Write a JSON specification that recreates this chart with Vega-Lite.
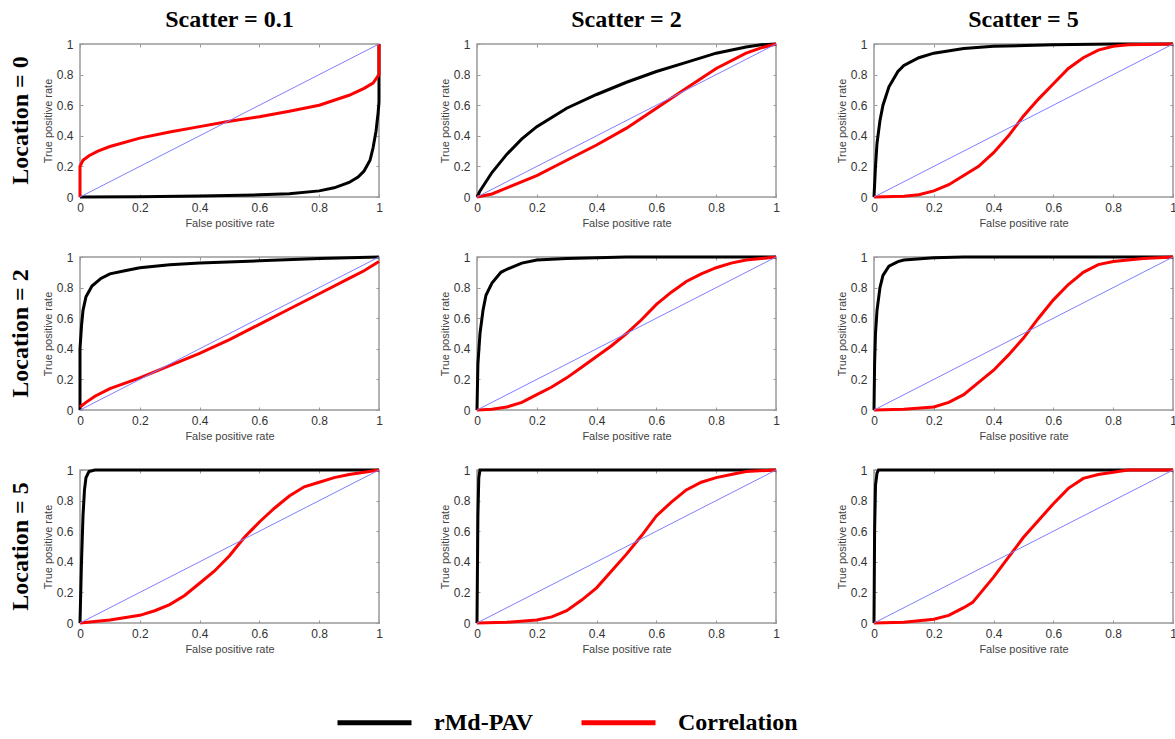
{
  "$schema": "https://vega.github.io/schema/vega-lite/v6.json",
  "background": "white",
  "padding": {"left": 8, "top": 8, "right": 5, "bottom": 5},
  "bounds": "flush",
  "data": {"values": [
    {"l":"0","s":"0.1","k":"rMd-PAV","x":0,"y":0},{"l":"0","s":"0.1","k":"rMd-PAV","x":0.2,"y":0.002},{"l":"0","s":"0.1","k":"rMd-PAV","x":0.4,"y":0.006},{"l":"0","s":"0.1","k":"rMd-PAV","x":0.6,"y":0.014},{"l":"0","s":"0.1","k":"rMd-PAV","x":0.7,"y":0.022},{"l":"0","s":"0.1","k":"rMd-PAV","x":0.8,"y":0.04},{"l":"0","s":"0.1","k":"rMd-PAV","x":0.85,"y":0.06},{"l":"0","s":"0.1","k":"rMd-PAV","x":0.9,"y":0.095},{"l":"0","s":"0.1","k":"rMd-PAV","x":0.93,"y":0.13},{"l":"0","s":"0.1","k":"rMd-PAV","x":0.95,"y":0.17},{"l":"0","s":"0.1","k":"rMd-PAV","x":0.97,"y":0.24},{"l":"0","s":"0.1","k":"rMd-PAV","x":0.98,"y":0.32},{"l":"0","s":"0.1","k":"rMd-PAV","x":0.99,"y":0.43},{"l":"0","s":"0.1","k":"rMd-PAV","x":0.997,"y":0.55},{"l":"0","s":"0.1","k":"rMd-PAV","x":1,"y":0.62},{"l":"0","s":"0.1","k":"rMd-PAV","x":1,"y":0.8},{"l":"0","s":"0.1","k":"rMd-PAV","x":1,"y":1},
    {"l":"0","s":"0.1","k":"Correlation","x":0,"y":0},{"l":"0","s":"0.1","k":"Correlation","x":0,"y":0.2},{"l":"0","s":"0.1","k":"Correlation","x":0.01,"y":0.24},{"l":"0","s":"0.1","k":"Correlation","x":0.03,"y":0.27},{"l":"0","s":"0.1","k":"Correlation","x":0.06,"y":0.3},{"l":"0","s":"0.1","k":"Correlation","x":0.1,"y":0.33},{"l":"0","s":"0.1","k":"Correlation","x":0.2,"y":0.385},{"l":"0","s":"0.1","k":"Correlation","x":0.3,"y":0.425},{"l":"0","s":"0.1","k":"Correlation","x":0.4,"y":0.46},{"l":"0","s":"0.1","k":"Correlation","x":0.5,"y":0.495},{"l":"0","s":"0.1","k":"Correlation","x":0.6,"y":0.525},{"l":"0","s":"0.1","k":"Correlation","x":0.7,"y":0.56},{"l":"0","s":"0.1","k":"Correlation","x":0.8,"y":0.6},{"l":"0","s":"0.1","k":"Correlation","x":0.9,"y":0.665},{"l":"0","s":"0.1","k":"Correlation","x":0.95,"y":0.71},{"l":"0","s":"0.1","k":"Correlation","x":0.98,"y":0.745},{"l":"0","s":"0.1","k":"Correlation","x":1,"y":0.8},{"l":"0","s":"0.1","k":"Correlation","x":1,"y":1},
    {"l":"0","s":"2","k":"rMd-PAV","x":0,"y":0},{"l":"0","s":"2","k":"rMd-PAV","x":0.01,"y":0.04},{"l":"0","s":"2","k":"rMd-PAV","x":0.03,"y":0.1},{"l":"0","s":"2","k":"rMd-PAV","x":0.05,"y":0.16},{"l":"0","s":"2","k":"rMd-PAV","x":0.1,"y":0.28},{"l":"0","s":"2","k":"rMd-PAV","x":0.15,"y":0.38},{"l":"0","s":"2","k":"rMd-PAV","x":0.2,"y":0.46},{"l":"0","s":"2","k":"rMd-PAV","x":0.3,"y":0.58},{"l":"0","s":"2","k":"rMd-PAV","x":0.4,"y":0.67},{"l":"0","s":"2","k":"rMd-PAV","x":0.5,"y":0.75},{"l":"0","s":"2","k":"rMd-PAV","x":0.6,"y":0.82},{"l":"0","s":"2","k":"rMd-PAV","x":0.7,"y":0.88},{"l":"0","s":"2","k":"rMd-PAV","x":0.8,"y":0.94},{"l":"0","s":"2","k":"rMd-PAV","x":0.9,"y":0.98},{"l":"0","s":"2","k":"rMd-PAV","x":0.95,"y":0.995},{"l":"0","s":"2","k":"rMd-PAV","x":1,"y":1},
    {"l":"0","s":"2","k":"Correlation","x":0,"y":0},{"l":"0","s":"2","k":"Correlation","x":0.05,"y":0.02},{"l":"0","s":"2","k":"Correlation","x":0.1,"y":0.06},{"l":"0","s":"2","k":"Correlation","x":0.2,"y":0.14},{"l":"0","s":"2","k":"Correlation","x":0.3,"y":0.24},{"l":"0","s":"2","k":"Correlation","x":0.4,"y":0.34},{"l":"0","s":"2","k":"Correlation","x":0.5,"y":0.45},{"l":"0","s":"2","k":"Correlation","x":0.6,"y":0.58},{"l":"0","s":"2","k":"Correlation","x":0.7,"y":0.71},{"l":"0","s":"2","k":"Correlation","x":0.8,"y":0.84},{"l":"0","s":"2","k":"Correlation","x":0.9,"y":0.94},{"l":"0","s":"2","k":"Correlation","x":0.95,"y":0.975},{"l":"0","s":"2","k":"Correlation","x":1,"y":1},
    {"l":"0","s":"5","k":"rMd-PAV","x":0,"y":0},{"l":"0","s":"5","k":"rMd-PAV","x":0.005,"y":0.2},{"l":"0","s":"5","k":"rMd-PAV","x":0.01,"y":0.35},{"l":"0","s":"5","k":"rMd-PAV","x":0.02,"y":0.5},{"l":"0","s":"5","k":"rMd-PAV","x":0.03,"y":0.6},{"l":"0","s":"5","k":"rMd-PAV","x":0.05,"y":0.72},{"l":"0","s":"5","k":"rMd-PAV","x":0.08,"y":0.82},{"l":"0","s":"5","k":"rMd-PAV","x":0.1,"y":0.86},{"l":"0","s":"5","k":"rMd-PAV","x":0.15,"y":0.91},{"l":"0","s":"5","k":"rMd-PAV","x":0.2,"y":0.94},{"l":"0","s":"5","k":"rMd-PAV","x":0.3,"y":0.97},{"l":"0","s":"5","k":"rMd-PAV","x":0.4,"y":0.985},{"l":"0","s":"5","k":"rMd-PAV","x":0.6,"y":0.995},{"l":"0","s":"5","k":"rMd-PAV","x":0.8,"y":1},{"l":"0","s":"5","k":"rMd-PAV","x":1,"y":1},
    {"l":"0","s":"5","k":"Correlation","x":0,"y":0},{"l":"0","s":"5","k":"Correlation","x":0.1,"y":0.005},{"l":"0","s":"5","k":"Correlation","x":0.15,"y":0.015},{"l":"0","s":"5","k":"Correlation","x":0.2,"y":0.04},{"l":"0","s":"5","k":"Correlation","x":0.25,"y":0.08},{"l":"0","s":"5","k":"Correlation","x":0.3,"y":0.14},{"l":"0","s":"5","k":"Correlation","x":0.35,"y":0.2},{"l":"0","s":"5","k":"Correlation","x":0.4,"y":0.29},{"l":"0","s":"5","k":"Correlation","x":0.45,"y":0.4},{"l":"0","s":"5","k":"Correlation","x":0.5,"y":0.53},{"l":"0","s":"5","k":"Correlation","x":0.55,"y":0.64},{"l":"0","s":"5","k":"Correlation","x":0.6,"y":0.74},{"l":"0","s":"5","k":"Correlation","x":0.65,"y":0.84},{"l":"0","s":"5","k":"Correlation","x":0.7,"y":0.91},{"l":"0","s":"5","k":"Correlation","x":0.75,"y":0.96},{"l":"0","s":"5","k":"Correlation","x":0.8,"y":0.985},{"l":"0","s":"5","k":"Correlation","x":0.85,"y":0.995},{"l":"0","s":"5","k":"Correlation","x":1,"y":1},
    {"l":"2","s":"0.1","k":"rMd-PAV","x":0,"y":0},{"l":"2","s":"0.1","k":"rMd-PAV","x":0,"y":0.4},{"l":"2","s":"0.1","k":"rMd-PAV","x":0.005,"y":0.55},{"l":"2","s":"0.1","k":"rMd-PAV","x":0.01,"y":0.65},{"l":"2","s":"0.1","k":"rMd-PAV","x":0.02,"y":0.74},{"l":"2","s":"0.1","k":"rMd-PAV","x":0.04,"y":0.81},{"l":"2","s":"0.1","k":"rMd-PAV","x":0.07,"y":0.86},{"l":"2","s":"0.1","k":"rMd-PAV","x":0.1,"y":0.89},{"l":"2","s":"0.1","k":"rMd-PAV","x":0.15,"y":0.91},{"l":"2","s":"0.1","k":"rMd-PAV","x":0.2,"y":0.93},{"l":"2","s":"0.1","k":"rMd-PAV","x":0.3,"y":0.95},{"l":"2","s":"0.1","k":"rMd-PAV","x":0.4,"y":0.96},{"l":"2","s":"0.1","k":"rMd-PAV","x":0.6,"y":0.975},{"l":"2","s":"0.1","k":"rMd-PAV","x":0.8,"y":0.99},{"l":"2","s":"0.1","k":"rMd-PAV","x":1,"y":1},
    {"l":"2","s":"0.1","k":"Correlation","x":0,"y":0.02},{"l":"2","s":"0.1","k":"Correlation","x":0.02,"y":0.05},{"l":"2","s":"0.1","k":"Correlation","x":0.05,"y":0.09},{"l":"2","s":"0.1","k":"Correlation","x":0.1,"y":0.14},{"l":"2","s":"0.1","k":"Correlation","x":0.2,"y":0.21},{"l":"2","s":"0.1","k":"Correlation","x":0.3,"y":0.29},{"l":"2","s":"0.1","k":"Correlation","x":0.4,"y":0.37},{"l":"2","s":"0.1","k":"Correlation","x":0.5,"y":0.46},{"l":"2","s":"0.1","k":"Correlation","x":0.6,"y":0.56},{"l":"2","s":"0.1","k":"Correlation","x":0.7,"y":0.66},{"l":"2","s":"0.1","k":"Correlation","x":0.8,"y":0.76},{"l":"2","s":"0.1","k":"Correlation","x":0.9,"y":0.86},{"l":"2","s":"0.1","k":"Correlation","x":0.95,"y":0.91},{"l":"2","s":"0.1","k":"Correlation","x":1,"y":0.97},
    {"l":"2","s":"2","k":"rMd-PAV","x":0,"y":0},{"l":"2","s":"2","k":"rMd-PAV","x":0.003,"y":0.3},{"l":"2","s":"2","k":"rMd-PAV","x":0.01,"y":0.5},{"l":"2","s":"2","k":"rMd-PAV","x":0.02,"y":0.65},{"l":"2","s":"2","k":"rMd-PAV","x":0.03,"y":0.75},{"l":"2","s":"2","k":"rMd-PAV","x":0.05,"y":0.83},{"l":"2","s":"2","k":"rMd-PAV","x":0.08,"y":0.9},{"l":"2","s":"2","k":"rMd-PAV","x":0.1,"y":0.92},{"l":"2","s":"2","k":"rMd-PAV","x":0.15,"y":0.96},{"l":"2","s":"2","k":"rMd-PAV","x":0.2,"y":0.98},{"l":"2","s":"2","k":"rMd-PAV","x":0.3,"y":0.99},{"l":"2","s":"2","k":"rMd-PAV","x":0.5,"y":1},{"l":"2","s":"2","k":"rMd-PAV","x":1,"y":1},
    {"l":"2","s":"2","k":"Correlation","x":0,"y":0},{"l":"2","s":"2","k":"Correlation","x":0.05,"y":0.005},{"l":"2","s":"2","k":"Correlation","x":0.1,"y":0.02},{"l":"2","s":"2","k":"Correlation","x":0.15,"y":0.05},{"l":"2","s":"2","k":"Correlation","x":0.2,"y":0.1},{"l":"2","s":"2","k":"Correlation","x":0.25,"y":0.15},{"l":"2","s":"2","k":"Correlation","x":0.3,"y":0.21},{"l":"2","s":"2","k":"Correlation","x":0.35,"y":0.28},{"l":"2","s":"2","k":"Correlation","x":0.4,"y":0.35},{"l":"2","s":"2","k":"Correlation","x":0.45,"y":0.42},{"l":"2","s":"2","k":"Correlation","x":0.5,"y":0.5},{"l":"2","s":"2","k":"Correlation","x":0.55,"y":0.59},{"l":"2","s":"2","k":"Correlation","x":0.6,"y":0.69},{"l":"2","s":"2","k":"Correlation","x":0.65,"y":0.77},{"l":"2","s":"2","k":"Correlation","x":0.7,"y":0.84},{"l":"2","s":"2","k":"Correlation","x":0.75,"y":0.89},{"l":"2","s":"2","k":"Correlation","x":0.8,"y":0.93},{"l":"2","s":"2","k":"Correlation","x":0.85,"y":0.96},{"l":"2","s":"2","k":"Correlation","x":0.9,"y":0.98},{"l":"2","s":"2","k":"Correlation","x":1,"y":1},
    {"l":"2","s":"5","k":"rMd-PAV","x":0,"y":0},{"l":"2","s":"5","k":"rMd-PAV","x":0.002,"y":0.3},{"l":"2","s":"5","k":"rMd-PAV","x":0.005,"y":0.5},{"l":"2","s":"5","k":"rMd-PAV","x":0.01,"y":0.65},{"l":"2","s":"5","k":"rMd-PAV","x":0.02,"y":0.8},{"l":"2","s":"5","k":"rMd-PAV","x":0.03,"y":0.88},{"l":"2","s":"5","k":"rMd-PAV","x":0.05,"y":0.94},{"l":"2","s":"5","k":"rMd-PAV","x":0.08,"y":0.97},{"l":"2","s":"5","k":"rMd-PAV","x":0.1,"y":0.98},{"l":"2","s":"5","k":"rMd-PAV","x":0.2,"y":0.995},{"l":"2","s":"5","k":"rMd-PAV","x":0.3,"y":1},{"l":"2","s":"5","k":"rMd-PAV","x":1,"y":1},
    {"l":"2","s":"5","k":"Correlation","x":0,"y":0},{"l":"2","s":"5","k":"Correlation","x":0.1,"y":0.005},{"l":"2","s":"5","k":"Correlation","x":0.2,"y":0.02},{"l":"2","s":"5","k":"Correlation","x":0.25,"y":0.05},{"l":"2","s":"5","k":"Correlation","x":0.3,"y":0.1},{"l":"2","s":"5","k":"Correlation","x":0.35,"y":0.18},{"l":"2","s":"5","k":"Correlation","x":0.4,"y":0.26},{"l":"2","s":"5","k":"Correlation","x":0.45,"y":0.36},{"l":"2","s":"5","k":"Correlation","x":0.5,"y":0.47},{"l":"2","s":"5","k":"Correlation","x":0.55,"y":0.6},{"l":"2","s":"5","k":"Correlation","x":0.6,"y":0.72},{"l":"2","s":"5","k":"Correlation","x":0.65,"y":0.82},{"l":"2","s":"5","k":"Correlation","x":0.7,"y":0.9},{"l":"2","s":"5","k":"Correlation","x":0.75,"y":0.95},{"l":"2","s":"5","k":"Correlation","x":0.8,"y":0.97},{"l":"2","s":"5","k":"Correlation","x":0.85,"y":0.98},{"l":"2","s":"5","k":"Correlation","x":0.9,"y":0.99},{"l":"2","s":"5","k":"Correlation","x":1,"y":1},
    {"l":"5","s":"0.1","k":"rMd-PAV","x":0,"y":0},{"l":"5","s":"0.1","k":"rMd-PAV","x":0.005,"y":0.4},{"l":"5","s":"0.1","k":"rMd-PAV","x":0.01,"y":0.7},{"l":"5","s":"0.1","k":"rMd-PAV","x":0.015,"y":0.87},{"l":"5","s":"0.1","k":"rMd-PAV","x":0.02,"y":0.95},{"l":"5","s":"0.1","k":"rMd-PAV","x":0.03,"y":0.99},{"l":"5","s":"0.1","k":"rMd-PAV","x":0.05,"y":1},{"l":"5","s":"0.1","k":"rMd-PAV","x":1,"y":1},
    {"l":"5","s":"0.1","k":"Correlation","x":0,"y":0},{"l":"5","s":"0.1","k":"Correlation","x":0.1,"y":0.02},{"l":"5","s":"0.1","k":"Correlation","x":0.2,"y":0.05},{"l":"5","s":"0.1","k":"Correlation","x":0.25,"y":0.08},{"l":"5","s":"0.1","k":"Correlation","x":0.3,"y":0.12},{"l":"5","s":"0.1","k":"Correlation","x":0.35,"y":0.18},{"l":"5","s":"0.1","k":"Correlation","x":0.4,"y":0.26},{"l":"5","s":"0.1","k":"Correlation","x":0.45,"y":0.34},{"l":"5","s":"0.1","k":"Correlation","x":0.5,"y":0.44},{"l":"5","s":"0.1","k":"Correlation","x":0.55,"y":0.56},{"l":"5","s":"0.1","k":"Correlation","x":0.6,"y":0.66},{"l":"5","s":"0.1","k":"Correlation","x":0.65,"y":0.75},{"l":"5","s":"0.1","k":"Correlation","x":0.7,"y":0.83},{"l":"5","s":"0.1","k":"Correlation","x":0.75,"y":0.89},{"l":"5","s":"0.1","k":"Correlation","x":0.8,"y":0.92},{"l":"5","s":"0.1","k":"Correlation","x":0.85,"y":0.95},{"l":"5","s":"0.1","k":"Correlation","x":0.9,"y":0.97},{"l":"5","s":"0.1","k":"Correlation","x":0.95,"y":0.985},{"l":"5","s":"0.1","k":"Correlation","x":1,"y":1},
    {"l":"5","s":"2","k":"rMd-PAV","x":0,"y":0},{"l":"5","s":"2","k":"rMd-PAV","x":0.003,"y":0.7},{"l":"5","s":"2","k":"rMd-PAV","x":0.006,"y":0.95},{"l":"5","s":"2","k":"rMd-PAV","x":0.01,"y":1},{"l":"5","s":"2","k":"rMd-PAV","x":1,"y":1},
    {"l":"5","s":"2","k":"Correlation","x":0,"y":0},{"l":"5","s":"2","k":"Correlation","x":0.1,"y":0.005},{"l":"5","s":"2","k":"Correlation","x":0.2,"y":0.02},{"l":"5","s":"2","k":"Correlation","x":0.25,"y":0.04},{"l":"5","s":"2","k":"Correlation","x":0.3,"y":0.08},{"l":"5","s":"2","k":"Correlation","x":0.35,"y":0.15},{"l":"5","s":"2","k":"Correlation","x":0.4,"y":0.23},{"l":"5","s":"2","k":"Correlation","x":0.45,"y":0.34},{"l":"5","s":"2","k":"Correlation","x":0.5,"y":0.45},{"l":"5","s":"2","k":"Correlation","x":0.55,"y":0.57},{"l":"5","s":"2","k":"Correlation","x":0.6,"y":0.7},{"l":"5","s":"2","k":"Correlation","x":0.65,"y":0.79},{"l":"5","s":"2","k":"Correlation","x":0.7,"y":0.87},{"l":"5","s":"2","k":"Correlation","x":0.75,"y":0.92},{"l":"5","s":"2","k":"Correlation","x":0.8,"y":0.95},{"l":"5","s":"2","k":"Correlation","x":0.85,"y":0.97},{"l":"5","s":"2","k":"Correlation","x":0.9,"y":0.99},{"l":"5","s":"2","k":"Correlation","x":1,"y":1},
    {"l":"5","s":"5","k":"rMd-PAV","x":0,"y":0},{"l":"5","s":"5","k":"rMd-PAV","x":0.002,"y":0.6},{"l":"5","s":"5","k":"rMd-PAV","x":0.005,"y":0.9},{"l":"5","s":"5","k":"rMd-PAV","x":0.01,"y":0.98},{"l":"5","s":"5","k":"rMd-PAV","x":0.015,"y":1},{"l":"5","s":"5","k":"rMd-PAV","x":1,"y":1},
    {"l":"5","s":"5","k":"Correlation","x":0,"y":0},{"l":"5","s":"5","k":"Correlation","x":0.1,"y":0.005},{"l":"5","s":"5","k":"Correlation","x":0.2,"y":0.025},{"l":"5","s":"5","k":"Correlation","x":0.25,"y":0.05},{"l":"5","s":"5","k":"Correlation","x":0.3,"y":0.1},{"l":"5","s":"5","k":"Correlation","x":0.33,"y":0.135},{"l":"5","s":"5","k":"Correlation","x":0.4,"y":0.3},{"l":"5","s":"5","k":"Correlation","x":0.45,"y":0.43},{"l":"5","s":"5","k":"Correlation","x":0.5,"y":0.56},{"l":"5","s":"5","k":"Correlation","x":0.55,"y":0.67},{"l":"5","s":"5","k":"Correlation","x":0.6,"y":0.78},{"l":"5","s":"5","k":"Correlation","x":0.65,"y":0.88},{"l":"5","s":"5","k":"Correlation","x":0.7,"y":0.945},{"l":"5","s":"5","k":"Correlation","x":0.75,"y":0.97},{"l":"5","s":"5","k":"Correlation","x":0.8,"y":0.985},{"l":"5","s":"5","k":"Correlation","x":0.85,"y":1},{"l":"5","s":"5","k":"Correlation","x":1,"y":1},
    {"l":"0","s":"0.1","k":"Chance","x":0,"y":0},{"l":"0","s":"0.1","k":"Chance","x":1,"y":1},
    {"l":"0","s":"2","k":"Chance","x":0,"y":0},{"l":"0","s":"2","k":"Chance","x":1,"y":1},
    {"l":"0","s":"5","k":"Chance","x":0,"y":0},{"l":"0","s":"5","k":"Chance","x":1,"y":1},
    {"l":"2","s":"0.1","k":"Chance","x":0,"y":0},{"l":"2","s":"0.1","k":"Chance","x":1,"y":1},
    {"l":"2","s":"2","k":"Chance","x":0,"y":0},{"l":"2","s":"2","k":"Chance","x":1,"y":1},
    {"l":"2","s":"5","k":"Chance","x":0,"y":0},{"l":"2","s":"5","k":"Chance","x":1,"y":1},
    {"l":"5","s":"0.1","k":"Chance","x":0,"y":0},{"l":"5","s":"0.1","k":"Chance","x":1,"y":1},
    {"l":"5","s":"2","k":"Chance","x":0,"y":0},{"l":"5","s":"2","k":"Chance","x":1,"y":1},
    {"l":"5","s":"5","k":"Chance","x":0,"y":0},{"l":"5","s":"5","k":"Chance","x":1,"y":1}
  ]},
  "facet": {
    "row": {"field": "l", "type": "nominal", "title": null,
      "header": {"labelExpr": "'Location = ' + datum.value", "labelAngle": -90, "labelOrient": "left", "labelFont": "Liberation Serif", "labelFontSize": 24, "labelFontWeight": "bold", "labelColor": "black", "labelPadding": 35}},
    "column": {"field": "s", "type": "nominal", "title": null,
      "header": {"labelExpr": "'Scatter = ' + datum.value", "labelOrient": "top", "labelFont": "Liberation Serif", "labelFontSize": 24, "labelFontWeight": "bold", "labelColor": "black", "labelPadding": 12}}
  },
  "spacing": {"row": 60, "column": 98},
  "resolve": {"axis": {"x": "independent", "y": "independent"}},
  "spec": {
    "width": 299,
    "height": 153,
    "layer": [
      {
        "transform": [{"filter": "datum.k !== 'Chance'"}],
        "mark": {"type": "line", "strokeWidth": 3},
        "encoding": {
          "x": {"field": "x", "type": "quantitative", "scale": {"domain": [0, 1], "nice": false},
            "axis": {"title": "False positive rate", "values": [0, 0.2, 0.4, 0.6, 0.8, 1], "format": "~g", "labelOverlap": false}},
          "y": {"field": "y", "type": "quantitative", "scale": {"domain": [0, 1], "nice": false},
            "axis": {"title": "True positive rate", "values": [0, 0.2, 0.4, 0.6, 0.8, 1], "format": "~g", "labelOverlap": false}},
          "color": {"field": "k", "type": "nominal", "scale": {"domain": ["rMd-PAV", "Correlation"], "range": ["#000000", "#ff0000"]},
            "legend": {"title": null, "orient": "none", "direction": "horizontal", "legendX": 255, "legendY": 639}},
          "detail": {"field": "k"},
          "order": {"value": null}
        }
      },
      {
        "transform": [{"filter": "datum.k === 'Chance'"}],
        "mark": {"type": "line", "strokeWidth": 1, "color": "#7f7fff"},
        "encoding": {
          "x": {"field": "x", "type": "quantitative",
            "axis": {"orient": "top", "title": null, "labels": false, "values": [0, 0.2, 0.4, 0.6, 0.8, 1]}},
          "y": {"field": "y", "type": "quantitative",
            "axis": {"orient": "right", "title": null, "labels": false, "values": [0, 0.2, 0.4, 0.6, 0.8, 1]}},
          "order": {"value": null}
        }
      }
    ],
    "resolve": {"axis": {"x": "independent", "y": "independent"}}
  },
  "config": {
    "view": {"stroke": "#999999", "strokeWidth": 1.5},
    "axis": {
      "domain": false, "grid": false,
      "ticks": true, "tickSize": -3, "tickColor": "#999999",
      "labelOverlap": false, "labelFlush": false,
      "labelFont": "Liberation Sans", "labelFontSize": 12, "labelColor": "#333333",
      "titleFont": "Liberation Sans", "titleFontSize": 11, "titleFontWeight": "normal", "titleColor": "#444444"
    },
    "axisX": {"labelPadding": 8, "titlePadding": 4},
    "axisY": {"labelPadding": 10, "titlePadding": 3},
    "legend": {
      "symbolType": "stroke", "symbolSize": 5476, "symbolStrokeWidth": 5,
      "labelFont": "Liberation Serif", "labelFontSize": 24, "labelFontWeight": "bold", "labelColor": "black",
      "labelOffset": 20, "columnPadding": 37, "labelLimit": 300
    }
  }
}
